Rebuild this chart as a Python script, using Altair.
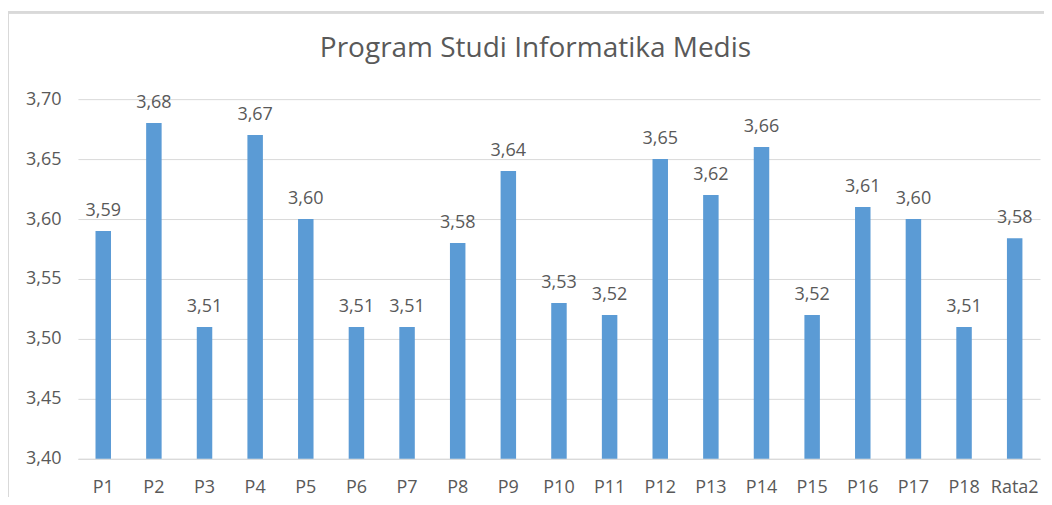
import altair as alt
import pandas as pd

categories = ["P1", "P2", "P3", "P4", "P5", "P6", "P7", "P8", "P9", "P10",
              "P11", "P12", "P13", "P14", "P15", "P16", "P17", "P18", "Rata2"]
values = [3.59, 3.68, 3.51, 3.67, 3.60, 3.51, 3.51, 3.58, 3.64, 3.53,
          3.52, 3.65, 3.62, 3.66, 3.52, 3.61, 3.60, 3.51, 3.584]
y_ticks = [3.40, 3.45, 3.50, 3.55, 3.60, 3.65, 3.70]
title_text = "Program Studi Informatika Medis"

df = pd.DataFrame({"cat": categories, "v": values})

FONT = "Open Sans"
TXT = "#595959"
GRID = "#d9d9d9"

base = alt.Chart(df).encode(
    x=alt.X("cat:N", sort=categories, title=None,
            scale=alt.Scale(paddingInner=0.0, paddingOuter=0.0),
            axis=alt.Axis(labelAngle=0, ticks=False, domain=True, domainColor=GRID, grid=False,
                          labelFont=FONT, labelFontSize=18, labelColor=TXT,
                          labelBaseline="alphabetic", labelPadding=34)),
    y=alt.Y("v:Q", title=None,
            scale=alt.Scale(domain=[3.40, 3.70], nice=False, zero=False),
            axis=alt.Axis(values=y_ticks, ticks=False, domain=False, grid=True, gridColor=GRID,
                          labelExpr="replace(format(datum.value, '.2f'), '.', ',')",
                          labelFont=FONT, labelFontSize=18, labelColor=TXT, labelPadding=17)),
)

bars = base.mark_bar(color="#5B9BD5", size=15.5, clip=True)

labels = base.transform_calculate(
    lbl="replace(format(datum.v, '.2f'), '.', ',')"
).mark_text(baseline="alphabetic", dy=-15, font=FONT, fontSize=18, color=TXT).encode(text="lbl:N")

title = alt.Chart(pd.DataFrame({"t": [title_text]})).mark_text(
    font=FONT, fontSize=28, color=TXT, baseline="alphabetic", align="center"
).encode(text="t:N", x=alt.value(458), y=alt.value(-42))

frame_top = alt.Chart(df).mark_rule(color=GRID, strokeWidth=2).encode(
    x=alt.value(-71), x2=alt.value(1100), y=alt.value(-87))
frame_left = alt.Chart(df).mark_rule(color=GRID, strokeWidth=2).encode(
    x=alt.value(-70), y=alt.value(-87), y2=alt.value(420))

chart = alt.layer(frame_top, frame_left, bars, labels, title).properties(
    width=963, height=360,
    autosize=alt.AutoSizeParams(type="none"),
    padding={"left": 70, "top": 91, "right": 4, "bottom": 38},
).configure_view(stroke=None)

chart.save("out.html", embed_options={"renderer": "svg", "actions": False})
